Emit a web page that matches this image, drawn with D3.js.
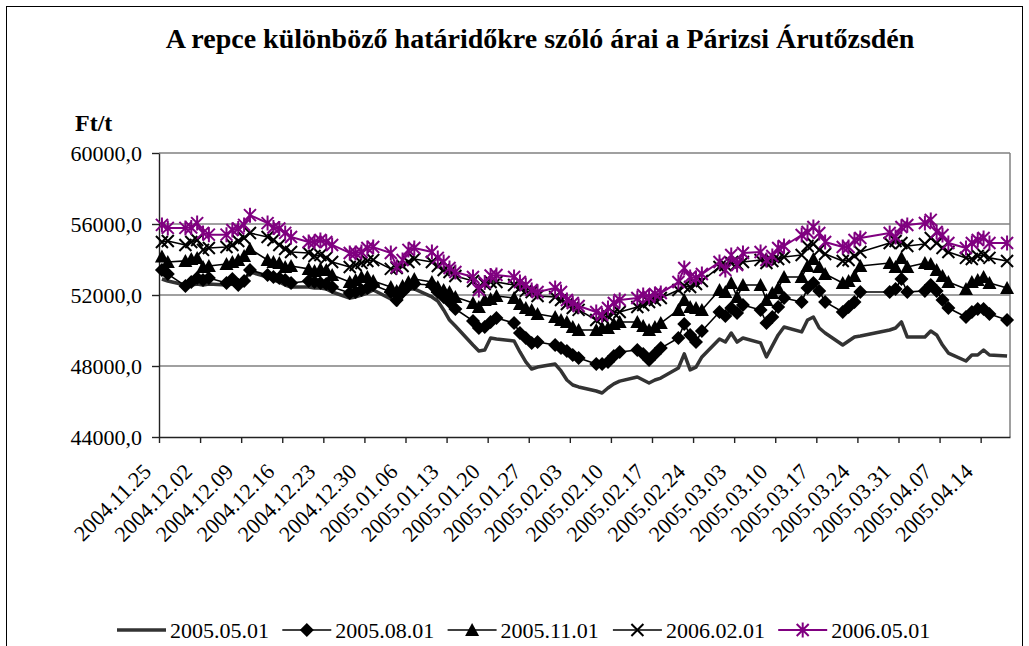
<!DOCTYPE html>
<html>
<head>
<meta charset="utf-8">
<script src="https://cdn.jsdelivr.net/npm/d3@7"></script>
<style>
    body { margin: 0; background: #ffffff; }
    svg text { font-family: "Liberation Serif", "Times New Roman", serif; fill: #000; }
</style>
</head>
<body>
<div id="chart"></div>
<script>
/******************************************************
 * Repce árak - Párizsi Árutőzsde (MATIF)
 * Line chart drawn with d3
*******************************************************/

//! DATA
const tradeDays = [
    "2004.11.25","2004.11.26","2004.11.29","2004.11.30",
    "2004.12.01","2004.12.02","2004.12.03","2004.12.06","2004.12.07","2004.12.08","2004.12.09","2004.12.10",
    "2004.12.13","2004.12.14","2004.12.15","2004.12.16","2004.12.17","2004.12.20","2004.12.21","2004.12.22","2004.12.23","2004.12.24",
    "2004.12.27","2004.12.28","2004.12.29","2004.12.30","2004.12.31",
    "2005.01.03","2005.01.04","2005.01.05","2005.01.06","2005.01.07","2005.01.10","2005.01.11","2005.01.12","2005.01.13","2005.01.14",
    "2005.01.17","2005.01.18","2005.01.19","2005.01.20","2005.01.21","2005.01.24","2005.01.25","2005.01.26","2005.01.27","2005.01.28","2005.01.31",
    "2005.02.01","2005.02.02","2005.02.03","2005.02.04","2005.02.07","2005.02.08","2005.02.09","2005.02.10","2005.02.11",
    "2005.02.14","2005.02.15","2005.02.16","2005.02.17","2005.02.18","2005.02.21","2005.02.22","2005.02.23","2005.02.24","2005.02.25","2005.02.28",
    "2005.03.01","2005.03.02","2005.03.03","2005.03.04","2005.03.07","2005.03.08","2005.03.09","2005.03.10","2005.03.11",
    "2005.03.14","2005.03.15","2005.03.16","2005.03.17","2005.03.18","2005.03.21","2005.03.22","2005.03.23","2005.03.24",
    "2005.03.29","2005.03.30","2005.03.31","2005.04.01","2005.04.04","2005.04.05","2005.04.06","2005.04.07","2005.04.08",
    "2005.04.11","2005.04.12","2005.04.13","2005.04.14","2005.04.15","2005.04.18"
];

const price0505 = [
    52900, 52790, 52560, 52560,
    52620, 52560, 52620, 52560, 52620, 52510, 52850, 53300,
    53010, 52850, 52730, 52560, 52450, 52450, 52390, 52390, 52340, 52170,
    51830, 51890, 52000, 52110, 52280,
    51780, 51440, 51940, 52340, 52340, 51890, 51660, 51160, 50590, 50250,
    49180, 48850, 48900, 49580, 49520, 49410, 48790, 48230, 47830, 47940, 48110,
    47720, 47210, 46930, 46820, 46590, 46480, 46760, 46990, 47150,
    47380, 47210, 47040, 47210, 47320, 47890, 48680, 47780, 47940, 48510, 49520,
    49350, 49860, 49350, 49580, 49300, 48510, 49130, 49750, 50200,
    49920, 50590, 50760, 50140, 49860, 49180, 49410, 49630, 49690,
    50030, 50140, 50480, 49630, 49630, 49970, 49750, 49180, 48730,
    48280, 48620, 48620, 48900, 48620, 48560
];

const price0508 = [
    53410, 53180, 52510, 52730,
    52960, 52850, 52960, 52680, 52900, 52560, 52790, 53410,
    53130, 53010, 52960, 52850, 52680, 52790, 52730, 52680, 52620, 52450,
    52110, 52170, 52280, 52390, 52560,
    52170, 51720, 52170, 52510, 52620, 52560, 52170, 51890, 51610, 51210,
    50540, 50140, 50200, 50480, 50700, 50420, 49860, 49580, 49300, 49350, 49180,
    49010, 48850, 48620, 48450, 48110, 48110, 48230, 48560, 48790,
    48900, 48680, 48340, 48680, 49010, 49580, 50370, 49750, 49350, 49970, 51040,
    50820, 51270, 50990, 51440, 51160, 50420, 50760, 51320, 51830,
    51610, 52390, 52680, 52230, 51610, 51040, 51320, 51610, 52170,
    52170, 52340, 52900, 52170, 52230, 52560, 52230, 51720, 51270,
    50760, 51040, 51210, 51210, 50930, 50590
];

const price0511 = [
    54170, 53860, 53920, 54030,
    54090, 53580, 53630, 53750, 53860, 53970, 54200, 54590,
    53970, 53860, 53800, 53580, 53630, 53470, 53350, 53470, 53410, 53130,
    52730, 52850, 53010, 53020, 52790,
    52450, 52230, 52510, 52730, 52900, 52730, 52450, 52280, 52170, 51890,
    51550, 51320, 51720, 51770, 51940, 51830, 51490, 51270, 51160, 50930, 50760,
    50590, 50480, 50200, 50030, 50030, 50140, 50140, 50370, 50480,
    50480, 50250, 50030, 50200, 50420, 51160, 51720, 51320, 51270, 51160, 52280,
    52170, 52680, 51890, 52560, 52560, 51720, 52110, 52390, 53010,
    53010, 53630, 54030, 53580, 53180, 52680, 52790, 53070, 53630,
    53800, 53580, 54090, 53580, 53800, 53750, 53410, 53070, 52730,
    52340, 52730, 52850, 53010, 52680, 52390
];

const price0602 = [
    54990, 55040, 54820, 54990,
    55100, 54540, 54650, 54700, 54820, 55040, 55210, 55490,
    55270, 55100, 54820, 54590, 54420, 54370, 54200, 54250, 54090, 53860,
    53580, 53690, 53800, 53920, 53970,
    53470, 53520, 53630, 53860, 54030, 53860, 53630, 53410, 53300, 53070,
    52790, 52450, 52620, 52730, 52730, 52560, 52390, 52230, 52170, 51940, 51890,
    51720, 51490, 51270, 51160, 50590, 50760, 50820, 50990, 51040,
    51320, 51440, 51610, 51720, 51830, 52280, 52510, 52450, 52620, 52790, 53580,
    53690, 53800, 53750, 53860, 53970, 53800, 53920, 54030, 54140,
    54250, 54760, 54870, 54540, 54310, 53920, 53970, 54200, 54420,
    54930, 55040, 54930, 54760, 54870, 55210, 54930, 54650, 54420,
    54090, 54030, 54200, 54250, 54090, 53920
];

const price0605 = [
    55950, 55780, 55780, 55800,
    56050, 55500, 55400, 55400, 55660, 55750, 55950, 56500,
    56050, 55800, 55750, 55500, 55270, 54990, 54990, 55100, 54990, 54820,
    54370, 54370, 54420, 54650, 54700,
    54370, 53580, 53970, 54540, 54650, 54420, 54090, 53860, 53520, 53300,
    53010, 52280, 52700, 53100, 53130, 53010, 52730, 52560, 52280, 52170, 52390,
    52170, 51720, 51550, 51380, 51040, 50870, 51270, 51550, 51720,
    51830, 52000, 51890, 52060, 52110, 52730, 53520, 53010, 52960, 53180, 53860,
    53410, 54250, 53690, 54370, 54420, 53970, 54200, 54650, 54760,
    55380, 55550, 55830, 55490, 54990, 54700, 54700, 55100, 55210,
    55490, 55270, 55830, 55940, 56060, 56230, 55550, 55380, 54930,
    54650, 54930, 55100, 55210, 54930, 54930
];

const seriesNames = ["2005.05.01", "2005.08.01", "2005.11.01", "2006.02.01", "2006.05.01"];
const yTicks = [44000, 48000, 52000, 56000, 60000];
const xTickLabels = [
    "2004.11.25","2004.12.02","2004.12.09","2004.12.16","2004.12.23","2004.12.30",
    "2005.01.06","2005.01.13","2005.01.20","2005.01.27","2005.02.03","2005.02.10",
    "2005.02.17","2005.02.24","2005.03.03","2005.03.10","2005.03.17","2005.03.24",
    "2005.03.31","2005.04.07","2005.04.14"
];
const xDomain = ["2004.11.25", "2005.04.19"];

//! CONSTANTS
const WIDTH = 1029;
const HEIGHT = 646;
const PLOT = { left: 159, right: 1010, top: 153, bottom: 437 };
const FONT_SIZE = 22;
const PURPLE = "#800080";

/******************************************************
 * Marker shapes (Excel style)
*******************************************************/
function drawMarker(g, kind, x, y) {
    if (kind === "diamond") {
        g.append("path")
            .attr("d", `M${x},${y - 7}L${x + 7},${y}L${x},${y + 7}L${x - 7},${y}Z`)
            .attr("fill", "#000");
    } else if (kind === "triangle") {
        g.append("path")
            .attr("d", `M${x},${y - 7}L${x + 7},${y + 6}L${x - 7},${y + 6}Z`)
            .attr("fill", "#000");
    } else if (kind === "cross") {
        g.append("path")
            .attr("d", `M${x - 6},${y - 6}L${x + 6},${y + 6}M${x - 6},${y + 6}L${x + 6},${y - 6}`)
            .attr("stroke", "#000").attr("stroke-width", 2);
    } else if (kind === "star") {
        g.append("path")
            .attr("d", `M${x - 6},${y - 6}L${x + 6},${y + 6}M${x - 6},${y + 6}L${x + 6},${y - 6}M${x},${y - 7.5}L${x},${y + 7.5}`)
            .attr("stroke", PURPLE).attr("stroke-width", 2);
    }
}

/******************************************************
 * Main draw
*******************************************************/
function draw() {
    const parse = d3.utcParse("%Y.%m.%d");
    const HALF_DAY = 12 * 3600 * 1000;
    const huLocale = d3.formatLocale({ decimal: ",", thousands: " ", grouping: [3], currency: ["", ""] });
    const fmt = huLocale.format(".1f");

    const series = [
        { name: seriesNames[0], values: price0505, color: "#333333", width: 3.5, marker: null },
        { name: seriesNames[1], values: price0508, color: "#000", width: 1.6, marker: "diamond" },
        { name: seriesNames[2], values: price0511, color: "#000", width: 1.6, marker: "triangle" },
        { name: seriesNames[3], values: price0602, color: "#000", width: 1.6, marker: "cross" },
        { name: seriesNames[4], values: price0605, color: PURPLE, width: 2, marker: "star" }
    ];

    const x = d3.scaleUtc()
        .domain(xDomain.map(parse))
        .range([PLOT.left, PLOT.right]);
    const y = d3.scaleLinear()
        .domain([yTicks[0], yTicks[yTicks.length - 1]])
        .range([PLOT.bottom, PLOT.top]);

    const svg = d3.select("#chart")
        .append("svg")
        .attr("width", WIDTH)
        .attr("height", HEIGHT);

    svg.append("rect")
        .attr("width", WIDTH).attr("height", HEIGHT).attr("fill", "#fff");

    // outer chart frame
    svg.append("rect")
        .attr("x", 6.5).attr("y", 6.5)
        .attr("width", 1016).attr("height", 720)
        .attr("fill", "none").attr("stroke", "#000").attr("stroke-width", 1);

    // Title
    svg.append("text")
        .attr("x", 540).attr("y", 48)
        .attr("text-anchor", "middle")
        .style("font-size", "28px").style("font-weight", "bold")
        .text("A repce különböző határidőkre szóló árai a Párizsi Árutőzsdén");

    svg.append("text")
        .attr("x", 75).attr("y", 131)
        .style("font-size", "24px").style("font-weight", "bold")
        .text("Ft/t");

    // Gridlines
    svg.append("g")
        .selectAll("line")
        .data(yTicks.slice(1))
        .enter().append("line")
        .attr("x1", PLOT.left).attr("x2", PLOT.right)
        .attr("y1", d => y(d)).attr("y2", d => y(d))
        .attr("stroke", "#808080").attr("stroke-width", 1.3);

    // plot area border (right side)
    svg.append("line")
        .attr("x1", PLOT.right).attr("x2", PLOT.right)
        .attr("y1", PLOT.top).attr("y2", PLOT.bottom)
        .attr("stroke", "#808080").attr("stroke-width", 1.5);

    // Y axis
    const yAxis = svg.append("g")
        .attr("transform", `translate(${PLOT.left},0)`)
        .call(d3.axisLeft(y).tickValues(yTicks).tickFormat(fmt).tickSize(7).tickSizeOuter(0).tickPadding(10));
    yAxis.selectAll("text").style("font-size", FONT_SIZE + "px").style("font-family", null);
    yAxis.selectAll("line, path").attr("stroke", "#222").attr("stroke-width", 1.4);

    // X axis
    const xAxis = svg.append("g")
        .attr("transform", `translate(0,${PLOT.bottom})`)
        .call(d3.axisBottom(x).tickValues(xTickLabels.map(parse)).tickSize(6).tickSizeOuter(0)
            .tickFormat(d3.utcFormat("%Y.%m.%d")));
    xAxis.selectAll("line, path").attr("stroke", "#222").attr("stroke-width", 1.4);
    xAxis.selectAll("text")
        .style("font-size", FONT_SIZE + "px").style("font-family", null)
        .attr("text-anchor", "end")
        .attr("y", 0).attr("dy", 0)
        .attr("transform", "translate(-7,36) rotate(-45)");

    // Series
    series.forEach(s => {
        const pts = tradeDays.map((d, i) => [x(new Date(parse(d).getTime() + HALF_DAY)), y(s.values[i])]);
        svg.append("path")
            .attr("d", d3.line()(pts))
            .attr("fill", "none")
            .attr("stroke", s.color)
            .attr("stroke-width", s.width)
            .attr("stroke-linejoin", "round");
        if (s.marker) {
            const g = svg.append("g");
            pts.forEach(p => drawMarker(g, s.marker, p[0], p[1]));
        }
    });

    // Legend
    const legendY = 630;
    const legend = svg.append("g");
    series.forEach((s, i) => {
        const lx = 117 + i * 165.3;
        legend.append("line")
            .attr("x1", lx).attr("x2", lx + 49)
            .attr("y1", legendY).attr("y2", legendY)
            .attr("stroke", s.color).attr("stroke-width", s.width);
        if (s.marker) drawMarker(legend, s.marker, lx + 24.5, legendY);
        legend.append("text")
            .attr("x", lx + 53).attr("y", legendY + 7.5)
            .style("font-size", FONT_SIZE + "px")
            .text(s.name);
    });
}

draw();
</script>
</body>
</html>
